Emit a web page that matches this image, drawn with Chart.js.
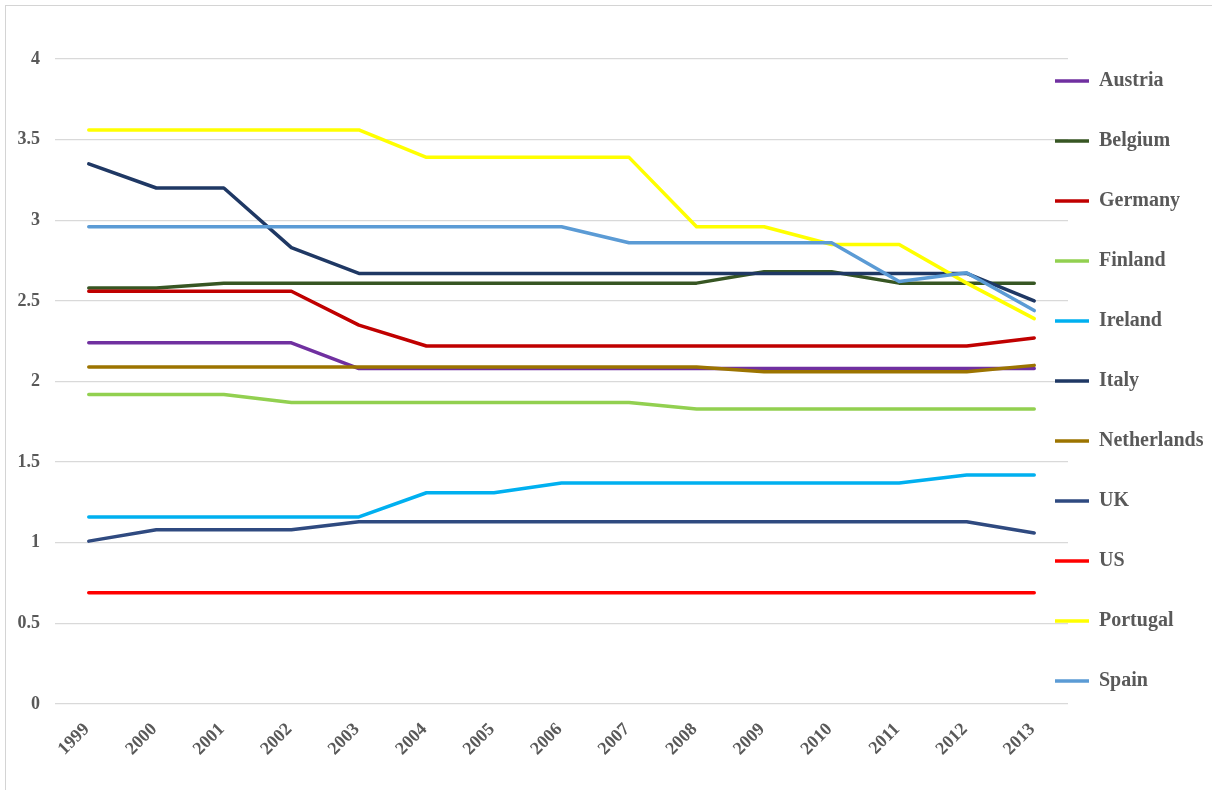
<!DOCTYPE html>
<html>
<head>
<meta charset="utf-8">
<script src="https://cdn.jsdelivr.net/npm/chart.js@4.4.1/dist/chart.umd.min.js"></script>
<style>
  body { margin: 0; background: #fff; }
  #wrap { position: relative; width: 1212px; height: 790px; overflow: hidden; }
  #frame { position: absolute; left: 5px; top: 5px; width: 1240px; height: 820px; border: 1px solid #d4d4d4; pointer-events: none; }
</style>
</head>
<body>
<div id="wrap">
  <div id="frame"></div>
  <canvas id="chart"></canvas>
</div>
<script>
// years on the x axis
const years = ['1999', '2000', '2001', '2002', '2003', '2004', '2005', '2006',
               '2007', '2008', '2009', '2010', '2011', '2012', '2013'];

// series values
const austria     = [2.24, 2.24, 2.24, 2.24, 2.08, 2.08, 2.08, 2.08, 2.08, 2.08, 2.08, 2.08, 2.08, 2.08, 2.08];
const belgium     = [2.58, 2.58, 2.61, 2.61, 2.61, 2.61, 2.61, 2.61, 2.61, 2.61, 2.68, 2.68, 2.61, 2.61, 2.61];
const germany     = [2.56, 2.56, 2.56, 2.56, 2.35, 2.22, 2.22, 2.22, 2.22, 2.22, 2.22, 2.22, 2.22, 2.22, 2.27];
const finland     = [1.92, 1.92, 1.92, 1.87, 1.87, 1.87, 1.87, 1.87, 1.87, 1.83, 1.83, 1.83, 1.83, 1.83, 1.83];
const ireland     = [1.16, 1.16, 1.16, 1.16, 1.16, 1.31, 1.31, 1.37, 1.37, 1.37, 1.37, 1.37, 1.37, 1.42, 1.42];
const italy       = [3.35, 3.20, 3.20, 2.83, 2.67, 2.67, 2.67, 2.67, 2.67, 2.67, 2.67, 2.67, 2.67, 2.67, 2.50];
const netherlands = [2.09, 2.09, 2.09, 2.09, 2.09, 2.09, 2.09, 2.09, 2.09, 2.09, 2.06, 2.06, 2.06, 2.06, 2.10];
const uk          = [1.01, 1.08, 1.08, 1.08, 1.13, 1.13, 1.13, 1.13, 1.13, 1.13, 1.13, 1.13, 1.13, 1.13, 1.06];
const us          = [0.69, 0.69, 0.69, 0.69, 0.69, 0.69, 0.69, 0.69, 0.69, 0.69, 0.69, 0.69, 0.69, 0.69, 0.69];
const portugal    = [3.56, 3.56, 3.56, 3.56, 3.56, 3.39, 3.39, 3.39, 3.39, 2.96, 2.96, 2.85, 2.85, 2.61, 2.39];
const spain       = [2.96, 2.96, 2.96, 2.96, 2.96, 2.96, 2.96, 2.96, 2.86, 2.86, 2.86, 2.86, 2.62, 2.675, 2.44];

const countries = ['Austria', 'Belgium', 'Germany', 'Finland', 'Ireland', 'Italy',
                   'Netherlands', 'UK', 'US', 'Portugal', 'Spain'];
const series = [austria, belgium, germany, finland, ireland, italy, netherlands, uk, us, portugal, spain];
const colors = ['#7030A0', '#375623', '#C00000', '#92D050', '#00B0F0', '#1F3864',
                '#9C7400', '#2F4A80', '#FF0000', '#FFFF00', '#5B9BD5'];

const textColor = '#595959';
const fontFamily = "'Liberation Serif', 'Times New Roman', serif";

// legend sits on the right; it reaches a little into the plot like in Excel
const LEGEND_WIDTH = 144;
const LEGEND_DX = 53;
const LEGEND_DY = 28;

const legendPlace = {
    id: 'legendPlace',
    beforeLayout(chart) {
        const lg = chart.legend;
        if (lg && !lg.fitPatched) {
            const fit = lg.fit;
            lg.fit = function () {
                fit.call(this);
                this.width = LEGEND_WIDTH;
            };
            lg.fitPatched = true;
        }
    },
    afterLayout(chart) {
        // only move the start edges, so the clip box grows instead of cutting text
        const lg = chart.legend;
        lg.left -= LEGEND_DX;
        lg.top -= LEGEND_DY;
    }
};

const datasets = countries.map((name, i) => ({
    label: name,
    data: series[i],
    borderColor: colors[i],
    backgroundColor: colors[i],
    borderWidth: 3.5,
    borderCapStyle: 'round',
    borderJoinStyle: 'round',
    pointRadius: 0,
    pointHoverRadius: 0,
    tension: 0,
    fill: false,
    order: countries.length - i   // later series drawn on top
}));

const ctx = document.getElementById('chart').getContext('2d');
const chart = new Chart(ctx, {
    type: 'line',
    data: { labels: years, datasets: datasets },
    plugins: [legendPlace],
    options: {
        responsive: true,
        maintainAspectRatio: false,
        animation: false,
        layout: { padding: { top: 59, left: 0, right: 0, bottom: 0 } },
        plugins: {
            tooltip: { enabled: false },
            legend: {
                position: 'right',
                align: 'start',
                labels: {
                    usePointStyle: true,
                    pointStyle: 'line',
                    pointStyleWidth: 34,
                    padding: 40,
                    color: textColor,
                    font: { family: fontFamily, size: 20, weight: 'bold' },
                    sort: (a, b) => a.datasetIndex - b.datasetIndex
                }
            }
        },
        scales: {
            x: {
                offset: true,
                grid: { display: false },
                border: { display: false },
                ticks: {
                    minRotation: 45,
                    maxRotation: 45,
                    padding: 7,
                    labelOffset: -2,
                    color: textColor,
                    font: { family: fontFamily, size: 18, weight: 'bold' }
                },
                afterFit(scale) { scale.height = 86; }
            },
            y: {
                min: 0,
                max: 4,
                ticks: {
                    stepSize: 0.5,
                    padding: 15,
                    color: textColor,
                    font: { family: fontFamily, size: 18, weight: 'bold' },
                    callback: (value) => String(value)
                },
                grid: { color: '#D9D9D9', lineWidth: 1.3, drawTicks: false },
                border: { display: false },
                afterFit(scale) { scale.width = 55; }
            }
        }
    }
});
</script>
</body>
</html>
